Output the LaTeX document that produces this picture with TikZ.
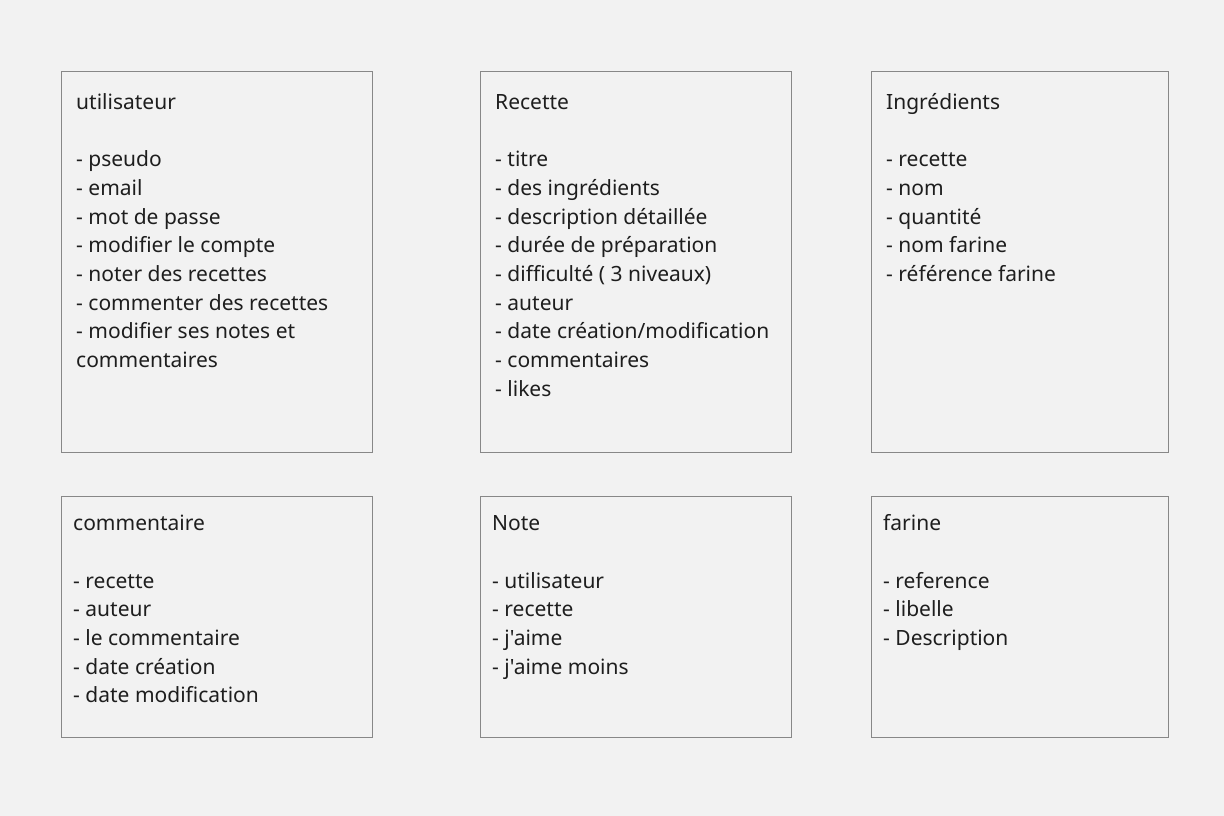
\documentclass[tikz,border=0pt]{standalone}
\usepackage{fontspec}
\newfontfamily\boxfont{Noto Sans}
\definecolor{bg}{HTML}{F2F2F2}
\definecolor{edge}{HTML}{888888}
\definecolor{ink}{HTML}{1E1E1E}
\newcommand{\firstline}{\rule{0pt}{17pt}}
\begin{document}
\begin{tikzpicture}[x=1pt,y=-1pt,
  entity/.style={draw=edge,fill=bg,line width=1pt,rectangle,inner sep=0pt,anchor=north west},
  body/.style={anchor=north west,inner sep=0pt,align=left,text=ink,
    font=\boxfont\fontsize{21}{28.7}\selectfont}]
\fill[bg] (0,0) rectangle (1224,816);
\useasboundingbox (0,0) rectangle (1224,816);
% boxes
\node[entity,minimum width=311pt,minimum height=381pt] (u) at (61,71) {};
\node[entity,minimum width=311pt,minimum height=381pt] (r) at (480,71) {};
\node[entity,minimum width=297pt,minimum height=381pt] (i) at (871,71) {};
\node[entity,minimum width=311pt,minimum height=241pt] (c) at (61,496) {};
\node[entity,minimum width=311pt,minimum height=241pt] (n) at (480,496) {};
\node[entity,minimum width=297pt,minimum height=241pt] (f) at (871,496) {};
% texts
\node[body] (ut) at (76,92) {\firstline utilisateur\\\mbox{}\\- pseudo\\- email\\- mot de passe\\- modifier le compte\\- noter des recettes\\- commenter des recettes\\- modifier ses notes et\\commentaires};
\node[body] (rt) at (495,92) {\firstline Recette\\\mbox{}\\- titre\\- des ingrédients\\- description détaillée\\- durée de préparation\\- difficulté ( 3 niveaux)\\- auteur\\- date création/modification\\- commentaires\\- likes};
\node[body] (it) at (886,92) {\firstline Ingrédients\\\mbox{}\\- recette\\- nom\\- quantité\\- nom farine\\- référence farine};
\node[body] (ct) at (73,513.5) {\firstline commentaire\\\mbox{}\\- recette\\- auteur\\- le commentaire\\- date création\\- date modification};
\node[body] (nt) at (492,513.5) {\firstline Note\\\mbox{}\\- utilisateur\\- recette\\- j'aime\\- j'aime moins};
\node[body] (ft) at (883,513.5) {\firstline farine\\\mbox{}\\- reference\\- libelle\\- Description};
\end{tikzpicture}
\end{document}
